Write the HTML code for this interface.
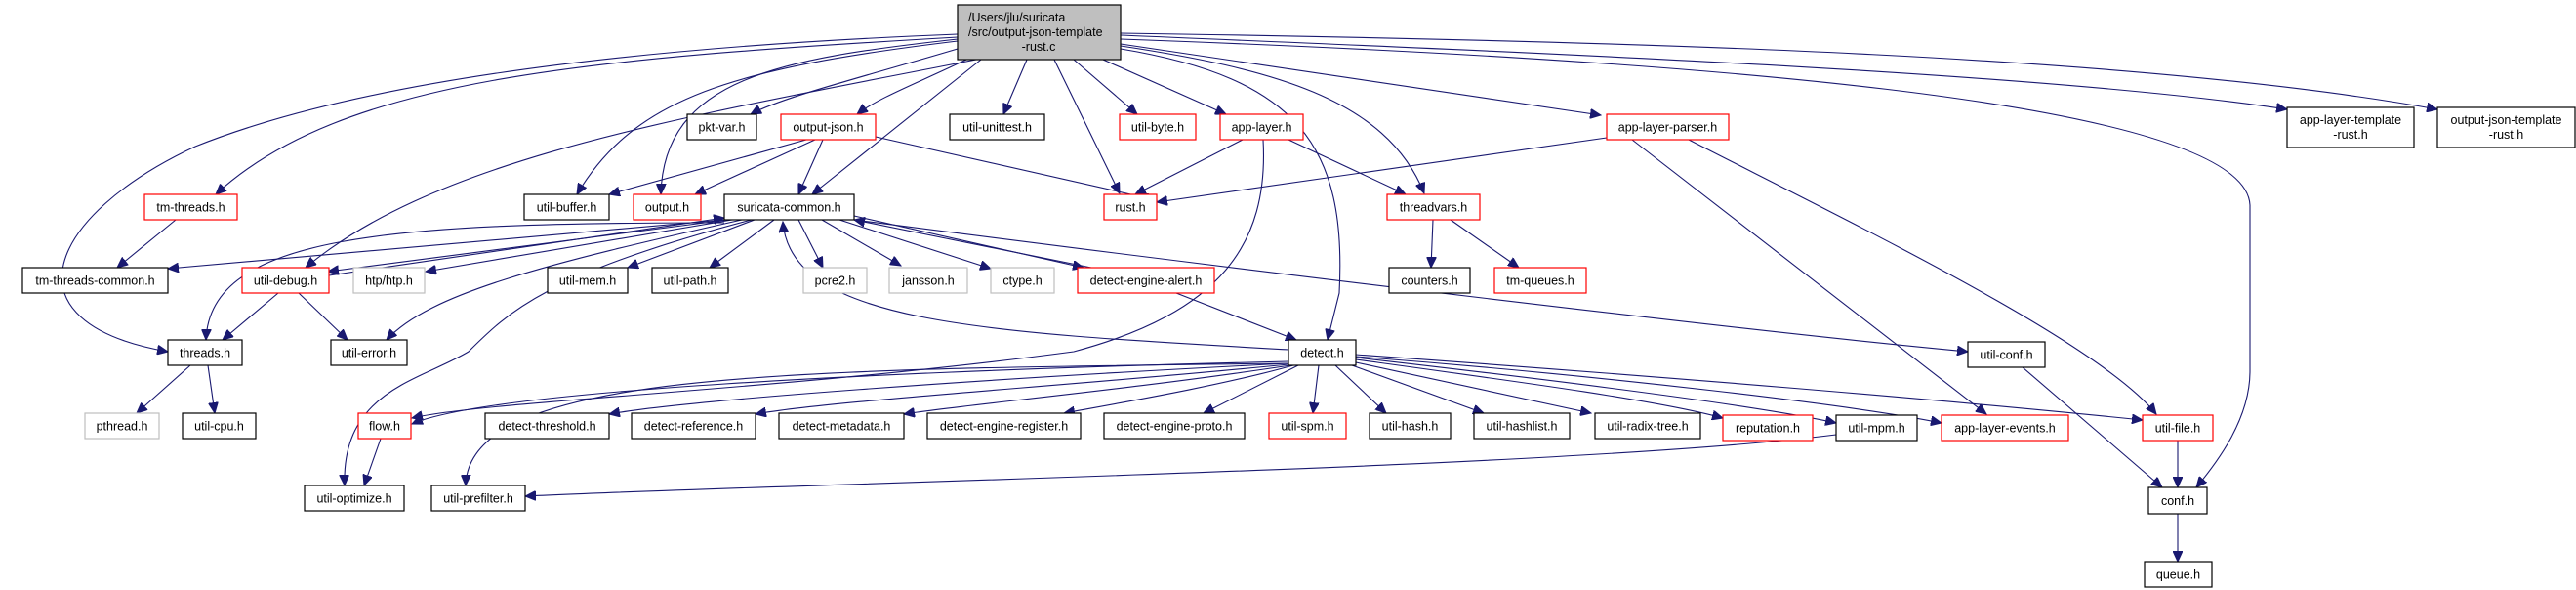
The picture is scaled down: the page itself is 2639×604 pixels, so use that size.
<!DOCTYPE html>
<html><head><meta charset="utf-8"><style>
html,body{margin:0;padding:0;background:#fff;width:2639px;height:604px;overflow:hidden}
svg{display:block}
text{font-family:"Liberation Sans",sans-serif;font-size:12.5px;fill:#000}
.b{fill:#fff;stroke:#000;stroke-width:1.2}
.r{fill:#fff;stroke:#f00;stroke-width:1.2}
.g{fill:#fff;stroke:#bfbfbf;stroke-width:1.2}
path.e{fill:none;stroke:#191970;stroke-width:1.1;marker-end:url(#a)}
</style></head><body>
<svg width="2639" height="604" viewBox="0 0 2639 604" xmlns="http://www.w3.org/2000/svg">
<defs><marker id="a" markerUnits="userSpaceOnUse" markerWidth="12" markerHeight="10" refX="11" refY="5" orient="auto"><path d="M0,0 L11,5 L0,10 z" fill="#191970" stroke="#191970"/></marker></defs>
<!-- edges from main -->
<path class="e" d="M981,50 C880,80 800,100 769,117"/>
<path class="e" d="M990,61 C940,85 900,100 878,117"/>
<path class="e" d="M1052,61 L1028,117"/>
<path class="e" d="M1100,61 L1165,117"/>
<path class="e" d="M1130,61 L1256,117"/>
<path class="e" d="M1148,45 L1640,118"/>
<path class="e" d="M1148,36 C1600,55 2100,75 2343,112"/>
<path class="e" d="M1148,34 C1700,42 2200,58 2497,112"/>
<path class="e" d="M1080,61 L1147,198"/>
<path class="e" d="M1148,47 C1300,70 1420,100 1459,198"/>
<path class="e" d="M1148,50 C1330,80 1380,150 1372,300 L1360,348"/>
<path class="e" d="M1148,40 C1700,60 2300,100 2305,210 L2305,380 C2305,430 2270,475 2250,499"/>
<path class="e" d="M1005,61 L832,199"/>
<path class="e" d="M981,40 C800,60 680,80 677,199"/>
<path class="e" d="M981,42 C750,70 650,100 591,199"/>
<path class="e" d="M1000,61 C700,120 450,160 313,274"/>
<path class="e" d="M981,38 C600,60 350,80 221,199"/>
<path class="e" d="M981,35 C600,50 350,90 200,150 C50,220 0,330 172,360"/>
<!-- output-json -->
<path class="e" d="M826,143 L624,199"/>
<path class="e" d="M835,143 L712,199"/>
<path class="e" d="M843,143 L818,199"/>
<path class="e" d="M897,140 L1185,205"/>
<!-- app-layer -->
<path class="e" d="M1273,143 L1163,199"/>
<path class="e" d="M1320,143 L1440,199"/>
<path class="e" d="M1294,143 C1300,250 1250,320 1100,360 C800,400 500,410 422,428"/>
<!-- app-layer-parser -->
<path class="e" d="M1646,141 L1185,207"/>
<path class="e" d="M1672,143 L2035,424"/>
<path class="e" d="M1730,143 C1900,230 2150,350 2209,424"/>
<!-- threadvars, tm-threads -->
<path class="e" d="M1468,225 L1466,274"/>
<path class="e" d="M1486,225 L1556,274"/>
<path class="e" d="M180,225 L120,274"/>
<!-- suricata-common -->
<path class="e" d="M742,225 L172,275"/>
<path class="e" d="M745,225 L336,278"/>
<path class="e" d="M337,282 L742,223"/>
<path class="e" d="M750,225 L436,278"/>
<path class="e" d="M773,225 L643,274"/>
<path class="e" d="M793,225 L727,274"/>
<path class="e" d="M818,225 L843,274"/>
<path class="e" d="M842,225 L923,272"/>
<path class="e" d="M860,225 L1015,275"/>
<path class="e" d="M875,221 L1110,274"/>
<path class="e" d="M1118,274 L875,225"/>
<path class="e" d="M742,228 C400,228 215,240 211,348"/>
<path class="e" d="M760,225 C560,270 440,300 396,348"/>
<path class="e" d="M770,225 C560,280 520,320 480,360 C430,390 350,400 353,497"/>
<path class="e" d="M875,225 C1300,280 1800,340 2016,360"/>
<!-- util-debug -->
<path class="e" d="M285,300 L228,348"/>
<path class="e" d="M306,300 L356,348"/>
<!-- detect-engine-alert -->
<path class="e" d="M1205,300 L1328,348"/>
<path class="e" d="M1320,358 C1000,340 810,330 802,227"/>
<!-- detect.h -->
<path class="e" d="M1320,370 C900,380 500,400 422,434"/>
<path class="e" d="M1320,372 C800,378 480,380 477,497"/>
<path class="e" d="M1320,372 C1000,388 700,410 624,424"/>
<path class="e" d="M1320,373 C1100,395 850,410 774,424"/>
<path class="e" d="M1322,374 C1150,400 980,415 926,424"/>
<path class="e" d="M1325,374 C1250,395 1150,412 1090,423"/>
<path class="e" d="M1330,374 L1233,423"/>
<path class="e" d="M1351,374 L1345,423"/>
<path class="e" d="M1368,374 L1420,423"/>
<path class="e" d="M1385,374 L1520,423"/>
<path class="e" d="M1389,371 L1630,423"/>
<path class="e" d="M1389,368 C1550,390 1700,410 1765,428"/>
<path class="e" d="M1389,366 C1600,390 1800,415 1881,433"/>
<path class="e" d="M1389,365 C1650,385 1900,415 1989,433"/>
<path class="e" d="M1389,363 C1700,385 2000,410 2195,430"/>
<!-- misc -->
<path class="e" d="M195,374 L140,423"/>
<path class="e" d="M213,374 L220,423"/>
<path class="e" d="M390,449 L373,497"/>
<path class="e" d="M1881,445 C1600,480 800,495 538,508"/>
<path class="e" d="M2072,376 L2215,499"/>
<path class="e" d="M2231,451 L2231,499"/>
<path class="e" d="M2231,526 L2231,575"/>
<!-- nodes -->
<rect x="981" y="5" width="167" height="56" fill="#bfbfbf" stroke="#000" stroke-width="1.2"/>
<text x="992" y="22">/Users/jlu/suricata</text>
<text x="992" y="37">/src/output-json-template</text>
<text x="1064" y="52" text-anchor="middle">-rust.c</text>
<g text-anchor="middle">
<rect class="b" x="704" y="117" width="71" height="26"/><text x="739.5" y="134.5">pkt-var.h</text>
<rect class="r" x="800" y="117" width="97" height="26"/><text x="848.5" y="134.5">output-json.h</text>
<rect class="b" x="973" y="117" width="97" height="26"/><text x="1021.5" y="134.5">util-unittest.h</text>
<rect class="r" x="1147" y="117" width="78" height="26"/><text x="1186" y="134.5">util-byte.h</text>
<rect class="r" x="1250" y="117" width="85" height="26"/><text x="1292.5" y="134.5">app-layer.h</text>
<rect class="r" x="1646" y="117" width="125" height="26"/><text x="1708.5" y="134.5">app-layer-parser.h</text>
<rect class="b" x="2343" y="110" width="130" height="41"/><text x="2408" y="127">app-layer-template</text><text x="2408" y="142">-rust.h</text>
<rect class="b" x="2497" y="110" width="141" height="41"/><text x="2567.5" y="127">output-json-template</text><text x="2567.5" y="142">-rust.h</text>
<rect class="r" x="148" y="199" width="95" height="26"/><text x="195.5" y="216.5">tm-threads.h</text>
<rect class="b" x="537" y="199" width="87" height="26"/><text x="580.5" y="216.5">util-buffer.h</text>
<rect class="r" x="649" y="199" width="69" height="26"/><text x="683.5" y="216.5">output.h</text>
<rect class="b" x="742" y="199" width="133" height="26"/><text x="808.5" y="216.5">suricata-common.h</text>
<rect class="r" x="1131" y="199" width="54" height="26"/><text x="1158" y="216.5">rust.h</text>
<rect class="r" x="1421" y="199" width="95" height="26"/><text x="1468.5" y="216.5">threadvars.h</text>
<rect class="b" x="23" y="274" width="149" height="26"/><text x="97.5" y="291.5">tm-threads-common.h</text>
<rect class="r" x="248" y="274" width="89" height="26"/><text x="292.5" y="291.5">util-debug.h</text>
<rect class="g" x="362" y="274" width="73" height="26"/><text x="398.5" y="291.5">htp/htp.h</text>
<rect class="b" x="561" y="274" width="82" height="26"/><text x="602" y="291.5">util-mem.h</text>
<rect class="b" x="668" y="274" width="78" height="26"/><text x="707" y="291.5">util-path.h</text>
<rect class="g" x="823" y="274" width="65" height="26"/><text x="855.5" y="291.5">pcre2.h</text>
<rect class="g" x="911" y="274" width="80" height="26"/><text x="951" y="291.5">jansson.h</text>
<rect class="g" x="1015" y="274" width="65" height="26"/><text x="1047.5" y="291.5">ctype.h</text>
<rect class="r" x="1104" y="274" width="140" height="26"/><text x="1174" y="291.5">detect-engine-alert.h</text>
<rect class="b" x="1423" y="274" width="83" height="26"/><text x="1464.5" y="291.5">counters.h</text>
<rect class="r" x="1531" y="274" width="94" height="26"/><text x="1578" y="291.5">tm-queues.h</text>
<rect class="b" x="172" y="348" width="76" height="26"/><text x="210" y="365.5">threads.h</text>
<rect class="b" x="339" y="348" width="78" height="26"/><text x="378" y="365.5">util-error.h</text>
<rect class="b" x="1320" y="348" width="69" height="26"/><text x="1354.5" y="365.5">detect.h</text>
<rect class="b" x="2016" y="350" width="79" height="26"/><text x="2055.5" y="367.5">util-conf.h</text>
<rect class="g" x="87" y="423" width="76" height="26"/><text x="125" y="440.5">pthread.h</text>
<rect class="b" x="187" y="423" width="75" height="26"/><text x="224.5" y="440.5">util-cpu.h</text>
<rect class="r" x="367" y="423" width="54" height="26"/><text x="394" y="440.5">flow.h</text>
<rect class="b" x="497" y="423" width="127" height="26"/><text x="560.5" y="440.5">detect-threshold.h</text>
<rect class="b" x="647" y="423" width="127" height="26"/><text x="710.5" y="440.5">detect-reference.h</text>
<rect class="b" x="798" y="423" width="128" height="26"/><text x="862" y="440.5">detect-metadata.h</text>
<rect class="b" x="950" y="423" width="157" height="26"/><text x="1028.5" y="440.5">detect-engine-register.h</text>
<rect class="b" x="1131" y="423" width="144" height="26"/><text x="1203" y="440.5">detect-engine-proto.h</text>
<rect class="r" x="1300" y="423" width="79" height="26"/><text x="1339.5" y="440.5">util-spm.h</text>
<rect class="b" x="1403" y="423" width="83" height="26"/><text x="1444.5" y="440.5">util-hash.h</text>
<rect class="b" x="1510" y="423" width="98" height="26"/><text x="1559" y="440.5">util-hashlist.h</text>
<rect class="b" x="1634" y="423" width="108" height="26"/><text x="1688" y="440.5">util-radix-tree.h</text>
<rect class="r" x="1765" y="425" width="92" height="26"/><text x="1811" y="442.5">reputation.h</text>
<rect class="b" x="1881" y="425" width="83" height="26"/><text x="1922.5" y="442.5">util-mpm.h</text>
<rect class="r" x="1989" y="425" width="130" height="26"/><text x="2054" y="442.5">app-layer-events.h</text>
<rect class="r" x="2195" y="425" width="72" height="26"/><text x="2231" y="442.5">util-file.h</text>
<rect class="b" x="312" y="497" width="102" height="26"/><text x="363" y="514.5">util-optimize.h</text>
<rect class="b" x="442" y="497" width="96" height="26"/><text x="490" y="514.5">util-prefilter.h</text>
<rect class="b" x="2201" y="499" width="60" height="27"/><text x="2231" y="517">conf.h</text>
<rect class="b" x="2197" y="575" width="69" height="26"/><text x="2231.5" y="592.5">queue.h</text>
</g>
</svg>
</body></html>
